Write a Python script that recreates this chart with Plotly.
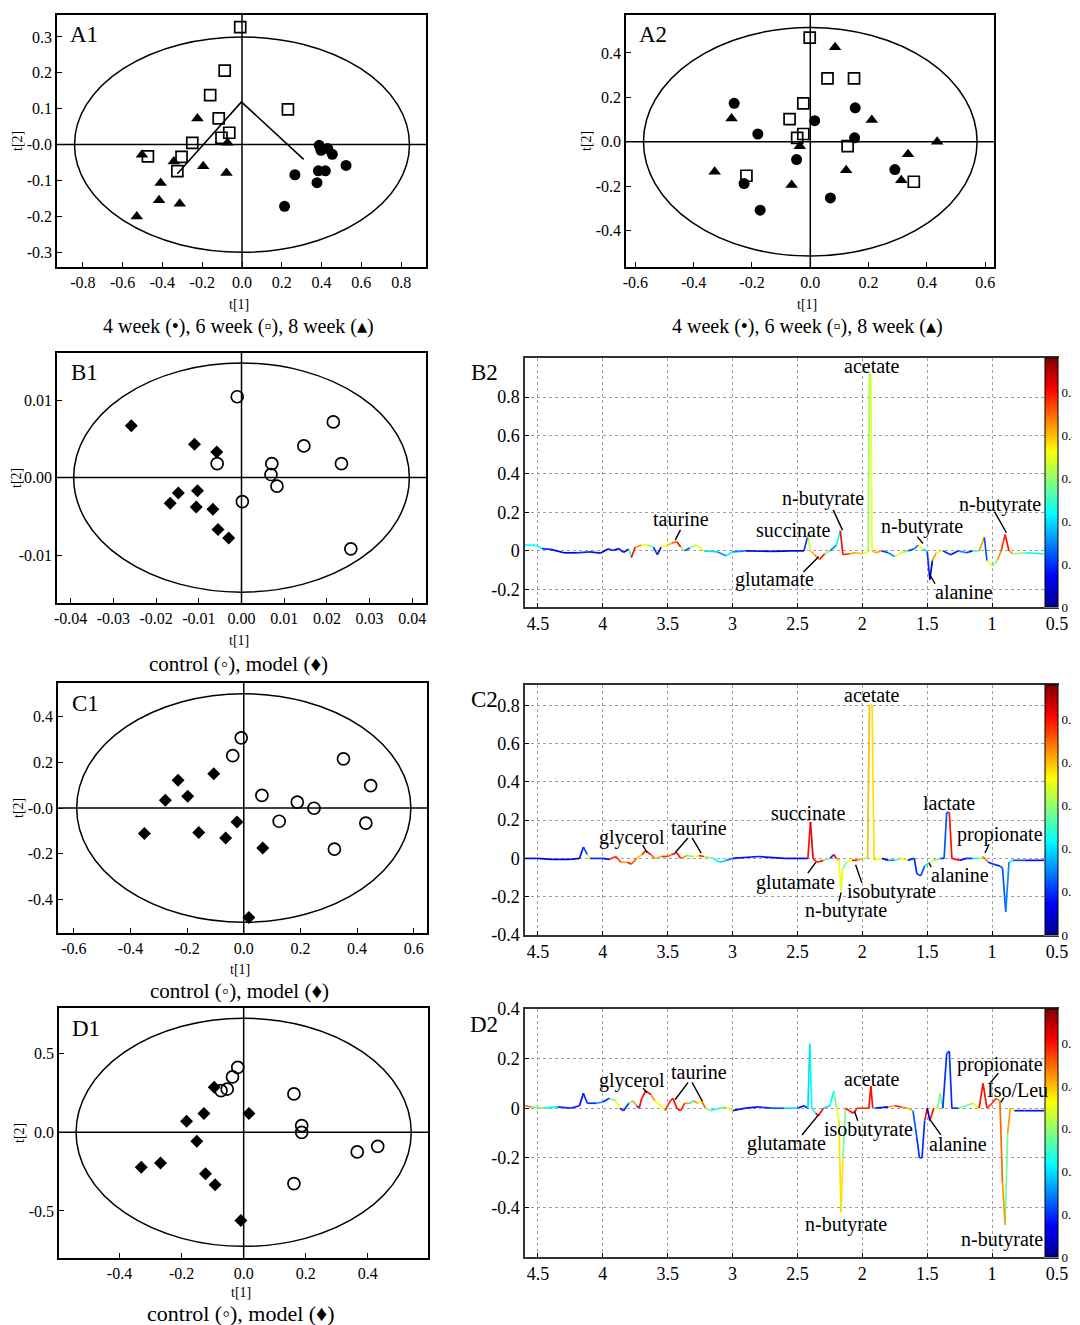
import plotly.graph_objects as go
from plotly.colors import sample_colorscale

W, H = 1080, 1325
OFF = 8  # the page body adds an 8 px margin; place items by screen pixel
FONT = "Liberation Serif"

# ---------------- score-plot data ----------------
A1_w4_x = [0.388, 0.397, 0.431, 0.454, 0.523, 0.384, 0.419, 0.266, 0.377, 0.214]
A1_w4_y = [-0.002, -0.016, -0.011, -0.027, -0.058, -0.073, -0.073, -0.084, -0.106, -0.172]
A1_w6_x = [-0.009, -0.087, -0.160, 0.231, -0.117, -0.064, -0.103, -0.250, -0.473, -0.304, -0.325]
A1_w6_y = [0.327, 0.206, 0.138, 0.098, 0.073, 0.033, 0.019, 0.005, -0.033, -0.034, -0.074]
A1_w8_x = [-0.224, -0.073, -0.503, -0.343, -0.195, -0.078, -0.409, -0.417, -0.313, -0.529]
A1_w8_y = [0.073, 0.005, -0.028, -0.047, -0.060, -0.079, -0.107, -0.155, -0.165, -0.200]
A1_traj_x = [-0.325, -0.003, 0.310]
A1_traj_y = [-0.081, 0.119, -0.041]

A2_w4_x = [-0.261, -0.180, 0.015, 0.154, 0.152, -0.227, -0.047, -0.172, 0.069, 0.290]
A2_w4_y = [0.173, 0.035, 0.095, 0.153, 0.018, -0.188, -0.080, -0.308, -0.253, -0.125]
A2_w6_x = [-0.002, 0.059, 0.150, -0.024, -0.071, -0.024, -0.045, 0.128, -0.219, 0.355]
A2_w6_y = [0.469, 0.286, 0.286, 0.173, 0.102, 0.035, 0.018, -0.020, -0.153, -0.180]
A2_w8_x = [0.085, -0.270, 0.211, 0.435, -0.036, 0.335, -0.328, 0.123, -0.064, 0.312]
A2_w8_y = [0.426, 0.105, 0.098, 0.000, -0.020, -0.056, -0.135, -0.128, -0.195, -0.173]

B1_ctl_x = [-0.0010, 0.0215, 0.0146, -0.0057, 0.0071, 0.0069, 0.0083, 0.0234, 0.0002, 0.0256]
B1_ctl_y = [0.01045, 0.0072, 0.0041, 0.0018, 0.0018, 0.0004, -0.0011, 0.0018, -0.0031, -0.0092]
B1_mod_x = [-0.0258, -0.0110, -0.0058, -0.0148, -0.0103, -0.0167, -0.0106, -0.0067, -0.0055, -0.0030]
B1_mod_y = [0.0067, 0.0043, 0.0033, -0.0020, -0.0017, -0.0033, -0.0038, -0.0041, -0.0067, -0.0078]

C1_ctl_x = [-0.009, -0.039, 0.352, 0.448, 0.064, 0.189, 0.248, 0.125, 0.431, 0.320]
C1_ctl_y = [0.307, 0.229, 0.215, 0.098, 0.055, 0.026, -0.001, -0.058, -0.066, -0.180]
C1_mod_x = [-0.106, -0.232, -0.198, -0.277, -0.024, -0.351, -0.159, -0.064, 0.067, 0.018]
C1_mod_y = [0.150, 0.121, 0.051, 0.034, -0.061, -0.112, -0.107, -0.131, -0.175, -0.479]

D1_ctl_x = [-0.019, -0.036, -0.053, -0.073, 0.162, 0.187, 0.187, 0.366, 0.432, 0.162]
D1_ctl_y = [0.413, 0.352, 0.275, 0.265, 0.244, 0.042, 0.000, -0.125, -0.089, -0.326]
D1_mod_x = [-0.095, -0.128, 0.017, -0.184, -0.151, -0.268, -0.330, -0.123, -0.092, -0.009]
D1_mod_y = [0.286, 0.119, 0.119, 0.070, -0.057, -0.195, -0.222, -0.263, -0.333, -0.561]

# ---------------- loading-plot data (ppm, loading, |r|) ----------------
B2_ppm = [4.60, 4.52, 4.47, 4.40, 4.30, 4.20, 4.10, 4.02, 3.96, 3.92, 3.88, 3.84, 3.80, 3.78, 3.75,
          3.70, 3.65, 3.61, 3.58, 3.55, 3.50, 3.47, 3.43, 3.40, 3.37, 3.33, 3.28, 3.22, 3.12, 3.05,
          3.00, 2.90, 2.70, 2.55, 2.45, 2.42, 2.40, 2.37, 2.33, 2.29, 2.25, 2.20, 2.17, 2.15, 2.10,
          2.05, 2.00, 1.955, 1.945, 1.935, 1.925, 1.90, 1.85, 1.80, 1.75, 1.70, 1.65, 1.60, 1.57,
          1.53, 1.50, 1.48, 1.46, 1.43, 1.38, 1.32, 1.26, 1.20, 1.15, 1.10, 1.06, 1.04, 1.00, 0.96,
          0.93, 0.90, 0.87, 0.84, 0.75, 0.60]
B2_load = [0.030, 0.030, 0.012, 0.008, -0.010, -0.010, -0.005, -0.012, 0.010, 0.002, 0.012, -0.008, 0.010, -0.035, 0.020,
           0.030, 0.030, 0.020, -0.020, 0.020, 0.030, 0.040, 0.048, 0.020, 0.000, 0.015, 0.030, 0.000, -0.005, -0.025,
           -0.005, 0.000, -0.003, 0.000, 0.000, 0.080, 0.000, -0.020, -0.045, -0.015, 0.000, 0.030, 0.105, -0.020, -0.015,
           -0.010, -0.015, -0.005, 0.920, 0.920, 0.000, -0.010, 0.000, -0.010, -0.030, -0.010, 0.000, 0.010, 0.030,
           0.010, -0.005, -0.150, -0.050, -0.010, 0.000, -0.020, 0.000, -0.010, 0.000, 0.000, 0.070, -0.050, -0.080, -0.050,
           0.000, 0.085, 0.000, -0.015, -0.010, -0.015]
B2_r = [0.22, 0.22, 0.10, 0.05, 0.06, 0.10, 0.08, 0.05, 0.10, 0.06, 0.08, 0.05, 0.25, 0.50, 0.42,
        0.36, 0.28, 0.10, 0.08, 0.36, 0.40, 0.45, 0.50, 0.30, 0.12, 0.30, 0.36, 0.20, 0.15, 0.22,
        0.15, 0.06, 0.05, 0.06, 0.10, 0.33, 0.40, 0.43, 0.50, 0.30, 0.15, 0.22, 0.50, 0.48, 0.42,
        0.40, 0.36, 0.30, 0.30, 0.36, 0.40, 0.42, 0.10, 0.15, 0.36, 0.30, 0.12, 0.15, 0.36,
        0.20, 0.10, 0.05, 0.42, 0.36, 0.10, 0.08, 0.15, 0.10, 0.25, 0.42, 0.12, 0.36, 0.28, 0.42,
        0.48, 0.50, 0.42, 0.30, 0.22, 0.10]

C2_ppm = [4.60, 4.50, 4.40, 4.25, 4.18, 4.15, 4.12, 4.10, 4.00, 3.95, 3.90, 3.86, 3.81, 3.78, 3.74,
          3.70, 3.67, 3.63, 3.60, 3.55, 3.50, 3.47, 3.43, 3.40, 3.35, 3.30, 3.26, 3.22, 3.15, 3.10,
          3.05, 3.00, 2.80, 2.60, 2.45, 2.42, 2.40, 2.38, 2.35, 2.30, 2.25, 2.22, 2.20, 2.18, 2.165,
          2.15, 2.12, 2.08, 2.04, 2.00, 1.96, 1.945, 1.925, 1.91, 1.85, 1.80, 1.75, 1.70, 1.65, 1.60,
          1.58, 1.55, 1.52, 1.48, 1.45, 1.40, 1.37, 1.35, 1.33, 1.31, 1.25, 1.20, 1.15, 1.10, 1.07,
          1.03, 0.99, 0.94, 0.92, 0.895, 0.87, 0.84, 0.75, 0.60]
C2_load = [0.000, 0.000, -0.005, -0.005, 0.000, 0.060, 0.020, 0.000, 0.000, -0.005, 0.010, -0.020, -0.020, -0.030, 0.000,
           0.020, 0.040, 0.020, 0.000, 0.010, 0.010, 0.020, 0.030, 0.000, 0.015, 0.010, 0.015, 0.010, 0.000, -0.020,
           -0.010, 0.000, 0.010, 0.000, 0.000, 0.000, 0.190, 0.000, -0.020, -0.010, 0.000, 0.020, 0.000, -0.010, -0.170,
           -0.050, -0.020, -0.010, -0.010, 0.000, 0.000, 0.800, 0.800, -0.010, 0.000, -0.010, -0.010, 0.000, -0.010, 0.000,
           -0.080, -0.090, -0.040, -0.020, -0.010, 0.000, 0.000, 0.240, 0.240, 0.000, -0.010, 0.000, 0.000, 0.000, 0.010,
           -0.020, -0.030, -0.040, -0.050, -0.280, -0.020, -0.010, -0.010, -0.010]
C2_r = [0.08, 0.06, 0.05, 0.06, 0.08, 0.12, 0.36, 0.10, 0.08, 0.48, 0.48, 0.42, 0.50, 0.45, 0.40,
        0.48, 0.50, 0.45, 0.40, 0.48, 0.45, 0.50, 0.50, 0.42, 0.28, 0.36, 0.48, 0.30, 0.22, 0.20,
        0.15, 0.08, 0.08, 0.06, 0.08, 0.50, 0.52, 0.50, 0.50, 0.30, 0.10, 0.50, 0.42, 0.36, 0.34,
        0.28, 0.36, 0.50, 0.42, 0.30, 0.40, 0.38, 0.38, 0.36, 0.08, 0.15, 0.28, 0.36, 0.10, 0.10,
        0.12, 0.12, 0.20, 0.36, 0.28, 0.10, 0.12, 0.12, 0.50, 0.50, 0.08, 0.10, 0.22, 0.36, 0.45,
        0.10, 0.10, 0.12, 0.12, 0.15, 0.22, 0.12, 0.08, 0.06]

D2_ppm = [4.60, 4.55, 4.45, 4.35, 4.25, 4.18, 4.15, 4.12, 4.05, 4.00, 3.95, 3.90, 3.87, 3.84, 3.80,
          3.77, 3.74, 3.72, 3.70, 3.67, 3.63, 3.60, 3.55, 3.52, 3.48, 3.46, 3.43, 3.40, 3.37, 3.33,
          3.30, 3.27, 3.24, 3.21, 3.17, 3.10, 3.05, 3.00, 2.90, 2.80, 2.70, 2.60, 2.50, 2.45, 2.42,
          2.405, 2.39, 2.36, 2.34, 2.30, 2.25, 2.22, 2.20, 2.18, 2.165, 2.15, 2.13, 2.10, 2.07, 2.04,
          2.00, 1.95, 1.935, 1.92, 1.90, 1.80, 1.75, 1.70, 1.65, 1.61, 1.58, 1.56, 1.54, 1.52, 1.50,
          1.48, 1.45, 1.42, 1.40, 1.38, 1.35, 1.33, 1.31, 1.26, 1.20, 1.15, 1.10, 1.07, 1.04, 1.00,
          0.97, 0.94, 0.92, 0.90, 0.88, 0.86, 0.83, 0.75, 0.60]
D2_load = [0.010, 0.005, 0.000, 0.005, 0.000, 0.010, 0.060, 0.020, 0.020, 0.025, 0.040, 0.030, 0.000, -0.010, 0.020,
           0.030, 0.010, 0.000, 0.040, 0.070, 0.055, 0.030, 0.010, -0.010, 0.030, 0.040, 0.000, -0.010, 0.020, 0.020,
           0.030, 0.020, 0.030, 0.000, -0.010, 0.000, 0.005, -0.010, 0.000, 0.005, 0.000, 0.000, 0.000, 0.010, 0.000,
           0.260, 0.000, -0.020, -0.030, 0.000, 0.010, 0.070, 0.000, -0.050, -0.420, -0.200, 0.000, -0.010, -0.020, 0.000,
           0.000, 0.000, 0.090, 0.000, 0.000, 0.005, 0.010, 0.005, 0.000, -0.010, -0.120, -0.200, -0.200, -0.050, 0.000,
           -0.050, 0.000, 0.000, 0.060, 0.000, 0.220, 0.230, 0.000, 0.000, 0.010, 0.020, 0.000, 0.100, 0.000, 0.020,
           0.040, 0.030, -0.300, -0.470, -0.100, 0.000, -0.010, -0.010, -0.010]
D2_r = [0.45, 0.28, 0.22, 0.10, 0.08, 0.08, 0.10, 0.10, 0.15, 0.10, 0.28, 0.36, 0.10, 0.10, 0.28,
        0.42, 0.10, 0.50, 0.50, 0.50, 0.42, 0.36, 0.36, 0.48, 0.50, 0.50, 0.50, 0.48, 0.42, 0.22,
        0.42, 0.36, 0.45, 0.30, 0.22, 0.28, 0.36, 0.08, 0.08, 0.10, 0.12, 0.20, 0.08, 0.10, 0.20,
        0.22, 0.22, 0.50, 0.50, 0.20, 0.22, 0.28, 0.36, 0.38, 0.38, 0.28, 0.50, 0.50, 0.50, 0.48,
        0.48, 0.50, 0.50, 0.20, 0.08, 0.42, 0.50, 0.42, 0.40, 0.12, 0.10, 0.10, 0.10, 0.50, 0.02,
        0.50, 0.36, 0.28, 0.28, 0.10, 0.10, 0.10, 0.10, 0.28, 0.28, 0.36, 0.50, 0.50, 0.48, 0.48,
        0.42, 0.45, 0.42, 0.28, 0.42, 0.36, 0.08, 0.08, 0.06]

# metabolite labels: text, ppm, loading
B2_lab = [("acetate", 1.923, 0.960), ("taurine", 3.396, 0.165), ("n-butyrate", 2.30, 0.270),
          ("succinate", 2.528, 0.111), ("n-butyrate", 1.54, 0.129), ("n-butyrate", 0.942, 0.243),
          ("glutamate", 2.675, -0.150), ("alanine", 1.218, -0.214)]
B2_lead = [(3.396, 0.117, 3.442, 0.056), (2.23, 0.221, 2.153, 0.108), (1.586, 0.082, 1.534, 0.038),
           (0.988, 0.212, 0.890, 0.094), (2.466, -0.118, 2.337, -0.031), (1.433, -0.179, 1.485, -0.118)]
C2_lab = [("acetate", 1.923, 0.854), ("succinate", 2.414, 0.237), ("lactate", 1.331, 0.292),
          ("glycerol", 3.779, 0.110), ("taurine", 3.258, 0.158), ("propionate", 0.942, 0.123),
          ("glutamate", 2.512, -0.125), ("isobutyrate", 1.775, -0.172), ("n-butyrate", 2.129, -0.271),
          ("alanine", 1.250, -0.084)]
C2_lead = [(3.70, 0.077, 3.66, 0.031), (3.334, 0.115, 3.442, 0.031), (3.319, 0.115, 3.242, 0.028),
           (1.018, 0.083, 1.055, 0.028), (2.429, -0.085, 2.359, -0.021), (2.00, -0.135, 2.052, -0.033),
           (2.184, -0.233, 2.163, -0.177), (1.463, -0.052, 1.485, -0.026)]
D2_lab = [("glycerol", 3.779, 0.113), ("taurine", 3.258, 0.147), ("acetate", 1.923, 0.119),
          ("propionate", 0.942, 0.178), ("Iso/Leu", 0.804, 0.073), ("glutamate", 2.583, -0.141),
          ("isobutyrate", 1.954, -0.087), ("alanine", 1.264, -0.144), ("n-butyrate", 2.129, -0.467),
          ("n-butyrate", 0.926, -0.528)]
D2_lead = [(3.70, 0.087, 3.66, 0.062), (3.334, 0.110, 3.442, 0.035), (3.319, 0.110, 3.233, 0.028),
           (0.942, 0.147, 1.018, 0.100), (0.902, 0.049, 0.933, 0.024), (2.475, -0.114, 2.337, -0.026),
           (2.031, -0.057, 2.061, -0.012), (1.387, -0.114, 1.479, -0.046)]

# tick labels
A1_xt = [-0.8, -0.6, -0.4, -0.2, 0.0, 0.2, 0.4, 0.6, 0.8]
A1_xtt = ["-0.8", "-0.6", "-0.4", "-0.2", "0.0", "0.2", "0.4", "0.6", "0.8"]
A1_yt = [0.3, 0.2, 0.1, 0.0, -0.1, -0.2, -0.3]
A1_ytt = ["0.3", "0.2", "0.1", "-0.0", "-0.1", "-0.2", "-0.3"]
S6_xt = [-0.6, -0.4, -0.2, 0.0, 0.2, 0.4, 0.6]
S6_xtt = ["-0.6", "-0.4", "-0.2", "0.0", "0.2", "0.4", "0.6"]
A2_yt = [0.4, 0.2, 0.0, -0.2, -0.4]
A2_ytt = ["0.4", "0.2", "0.0", "-0.2", "-0.4"]
B1_xt = [-0.04, -0.03, -0.02, -0.01, 0.0, 0.01, 0.02, 0.03, 0.04]
B1_xtt = ["-0.04", "-0.03", "-0.02", "-0.01", "0.00", "0.01", "0.02", "0.03", "0.04"]
B1_yt = [0.01, 0.0, -0.01]
B1_ytt = ["0.01", "0.00", "-0.01"]
C1_yt = [0.4, 0.2, 0.0, -0.2, -0.4]
C1_ytt = ["0.4", "0.2", "-0.0", "-0.2", "-0.4"]
D1_yt = [0.5, 0.0, -0.5]
D1_ytt = ["0.5", "0.0", "-0.5"]
PPM_t = [4.5, 4, 3.5, 3, 2.5, 2, 1.5, 1, 0.5]
PPM_tt = ["4.5", "4", "3.5", "3", "2.5", "2", "1.5", "1", "0.5"]
B2_yt = [-0.2, 0, 0.2, 0.4, 0.6, 0.8]
B2_ytt = ["-0.2", "0", "0.2", "0.4", "0.6", "0.8"]
C2_yt = [-0.4, -0.2, 0, 0.2, 0.4, 0.6, 0.8]
C2_ytt = ["-0.4", "-0.2", "0", "0.2", "0.4", "0.6", "0.8"]
D2_yt = [-0.4, -0.2, 0, 0.2, 0.4]
D2_ytt = ["-0.4", "-0.2", "0", "0.2", "0.4"]
CB_t = [0, 0.1, 0.2, 0.3, 0.4, 0.5]
CB_tt = ["0", "0.1", "0.2", "0.3", "0.4", "0.5"]

JET = [[0.0, "#00008F"], [0.125, "#0000FF"], [0.375, "#00FFFF"],
       [0.625, "#FFFF00"], [0.875, "#FF0000"], [1.0, "#800000"]]
RMAX = 0.58


def fx(px):
    return (px - OFF) / W


def fy(py):
    return 1 - (py - OFF) / H


fig = go.Figure()
layout = dict(width=W, height=H, autosize=False,
              margin=dict(l=0, r=0, t=0, b=0, pad=0, autoexpand=False),
              paper_bgcolor="white", plot_bgcolor="white", showlegend=False,
              font=dict(family=FONT, color="black"))
shapes, annos = [], []


def ptext(px, py, text, size, angle=0):
    annos.append(dict(xref="paper", yref="paper", x=fx(px), y=fy(py), text=text,
                      showarrow=False, xanchor="center", yanchor="middle", textangle=angle,
                      font=dict(family=FONT, size=size, color="black")))


def add_score_panel(n, frame, xr, yr, xt, xtt, yt, ytt, ell, label, caption, capsize, t1off, capoff):
    x0, y0, x1, y1 = frame
    sx = "" if n == 1 else str(n)
    tick = dict(ticks="inside", ticklen=5, tickwidth=1.2, tickcolor="black",
                showline=True, mirror=True, linecolor="black", linewidth=1.5,
                showgrid=False, zeroline=False,
                tickfont=dict(family=FONT, size=16, color="black"))
    layout["xaxis" + sx] = dict(domain=[fx(x0), fx(x1)], range=xr, anchor="y" + sx,
                                tickvals=xt, ticktext=xtt, **tick)
    layout["yaxis" + sx] = dict(domain=[fy(y1), fy(y0)], range=yr, anchor="x" + sx,
                                tickvals=yt, ticktext=ytt, **tick)
    rx, ry = ell
    shapes.append(dict(type="circle", xref="x" + sx, yref="y" + sx, x0=-rx, x1=rx, y0=-ry, y1=ry,
                       line=dict(color="black", width=1.5)))
    shapes.append(dict(type="line", xref="x" + sx, yref="y" + sx + " domain", x0=0, x1=0, y0=0, y1=1,
                       line=dict(color="black", width=1.5)))
    shapes.append(dict(type="line", xref="x" + sx + " domain", yref="y" + sx, x0=0, x1=1, y0=0, y1=0,
                       line=dict(color="black", width=1.5)))
    ptext(x0 + 27, y0 + 20, label, 23)
    cx = (x0 + x1) / 2 - 3
    ptext(cx, y1 + t1off, "t[1]", 14)
    ptext(x0 - 40, (y0 + y1) / 2, "t[2]", 14, -90)
    ptext(cx, y1 + capoff, caption, capsize)
    return "x" + sx, "y" + sx


def colored_line(xs, ys, rs, xa, ya):
    groups = {}
    for i in range(len(xs) - 1):
        groups.setdefault(rs[i], []).append(i)
    for r, idx in groups.items():
        lx, ly = [], []
        for i in idx:
            lx += [xs[i], xs[i + 1], None]
            ly += [ys[i], ys[i + 1], None]
        col = sample_colorscale(JET, [min(r / RMAX, 1.0)])[0]
        fig.add_trace(go.Scatter(x=lx, y=ly, mode="lines", xaxis=xa, yaxis=ya,
                                 line=dict(color=col, width=1.7), hoverinfo="skip"))


def add_loading_panel(n, frame, yr, yt, ytt, xs, ys, rs, labels, leads, plabel):
    x0, y0, x1, y1 = frame
    sx = str(n)
    common = dict(ticks="inside", ticklen=4, tickwidth=1, tickcolor="black",
                  showline=True, mirror=True, linecolor="#333333", linewidth=1.5,
                  showgrid=True, gridcolor="#a0a0a0", griddash="dot", gridwidth=1,
                  zeroline=False, tickfont=dict(family=FONT, size=18, color="black"))
    layout["xaxis" + sx] = dict(domain=[fx(x0), fx(x1)], range=[4.6, 0.5], anchor="y" + sx,
                                tickvals=PPM_t, ticktext=PPM_tt, **common)
    layout["yaxis" + sx] = dict(domain=[fy(y1), fy(y0)], range=yr, anchor="x" + sx,
                                tickvals=yt, ticktext=ytt, **common)
    xa, ya = "x" + sx, "y" + sx
    colored_line(xs, ys, rs, xa, ya)
    cb_left = x1 - 12.5
    cbar = dict(x=fx(cb_left), xanchor="left", xpad=0, ypad=0,
                y=fy((y0 + y1) / 2), yanchor="middle",
                len=(y1 - y0) / H, lenmode="fraction",
                thickness=12.5, thicknessmode="pixels",
                outlinewidth=1, outlinecolor="black",
                bgcolor="white", tickvals=CB_t, ticktext=CB_tt, ticks="", ticklen=0,
                tickfont=dict(family=FONT, size=13, color="black"))
    mk = dict(size=1, opacity=0, color=[0.0], colorscale=JET, cmin=0, cmax=RMAX,
              showscale=True, colorbar=cbar)
    fig.add_trace(go.Scatter(x=[2.0], y=[0.0], mode="markers", xaxis=xa, yaxis=ya,
                             hoverinfo="skip", marker=mk))
    for t, lx, ly in labels:
        annos.append(dict(xref=xa, yref=ya, x=lx, y=ly, text=t, showarrow=False,
                          xanchor="center", yanchor="middle",
                          font=dict(family=FONT, size=20, color="black")))
    for sxp, syp, ex, ey in leads:
        annos.append(dict(xref=xa, yref=ya, x=ex, y=ey, ax=sxp, ay=syp, axref=xa, ayref=ya,
                          text="", showarrow=True, arrowhead=0, arrowwidth=1.4, arrowcolor="black",
                          standoff=0, startstandoff=0))
    ptext(x0 - 41, y0 + 15, plabel, 23)


def marker_trace(xs, ys, symbol, size, xa, ya, lw=0):
    fig.add_trace(go.Scatter(x=xs, y=ys, mode="markers", xaxis=xa, yaxis=ya, hoverinfo="skip",
                             marker=dict(symbol=symbol, size=size, color="black",
                                         line=dict(color="black", width=lw))))


CAP_W = "4 week (\u2022), 6 week (\u25AB), 8 week (\u25B4)"
CAP_C = "control (\u25E6), model (\u2666)"

# A1
xa, ya = add_score_panel(1, (57, 15, 426, 267), [-0.93, 0.925], [-0.341, 0.361],
                         A1_xt, A1_xtt, A1_yt, A1_ytt, (0.842, 0.30), "A1", CAP_W, 20, 37, 59)
fig.add_trace(go.Scatter(x=A1_traj_x, y=A1_traj_y, mode="lines", xaxis=xa, yaxis=ya,
                         line=dict(color="black", width=1.6), hoverinfo="skip"))
marker_trace(A1_w4_x, A1_w4_y, "circle", 11, xa, ya)
marker_trace(A1_w6_x, A1_w6_y, "square-open", 11, xa, ya, 1.7)
marker_trace(A1_w8_x, A1_w8_y, "triangle-up", 11, xa, ya)

# A2
xa, ya = add_score_panel(2, (626, 15, 994, 267), [-0.632, 0.63], [-0.564, 0.571],
                         S6_xt, S6_xtt, A2_yt, A2_ytt, (0.572, 0.515), "A2", CAP_W, 20, 37, 59)
marker_trace(A2_w4_x, A2_w4_y, "circle", 11, xa, ya)
marker_trace(A2_w6_x, A2_w6_y, "square-open", 11, xa, ya, 1.7)
marker_trace(A2_w8_x, A2_w8_y, "triangle-up", 11, xa, ya)

# B1
xa, ya = add_score_panel(3, (57, 353, 426, 603), [-0.0432, 0.0432], [-0.0162, 0.0161],
                         B1_xt, B1_xtt, B1_yt, B1_ytt, (0.0393, 0.0148), "B1", CAP_C, 21, 38, 61)
marker_trace(B1_ctl_x, B1_ctl_y, "circle-open", 12, xa, ya, 1.7)
marker_trace(B1_mod_x, B1_mod_y, "diamond", 10, xa, ya)

# B2
add_loading_panel(4, (525, 358, 1057, 607), [-0.292, 1.003], B2_yt, B2_ytt,
                  B2_ppm, B2_load, B2_r, B2_lab, B2_lead, "B2")

# C1
xa, ya = add_score_panel(5, (58, 683, 427, 933), [-0.656, 0.647], [-0.547, 0.547],
                         S6_xt, S6_xtt, C1_yt, C1_ytt, (0.59, 0.50), "C1", CAP_C, 21, 36, 58)
marker_trace(C1_ctl_x, C1_ctl_y, "circle-open", 12, xa, ya, 1.7)
marker_trace(C1_mod_x, C1_mod_y, "diamond", 10, xa, ya)

# C2
add_loading_panel(6, (525, 685, 1057, 935), [-0.40, 0.906], C2_yt, C2_ytt,
                  C2_ppm, C2_load, C2_r, C2_lab, C2_lead, "C2")

# D1
xa, ya = add_score_panel(7, (59, 1008, 428, 1258), [-0.595, 0.594], [-0.799, 0.79],
                         S6_xt, S6_xtt, D1_yt, D1_ytt, (0.54, 0.725), "D1", CAP_C, 22, 34, 55)
marker_trace(D1_ctl_x, D1_ctl_y, "circle-open", 12, xa, ya, 1.7)
marker_trace(D1_mod_x, D1_mod_y, "diamond", 10, xa, ya)

# D2
add_loading_panel(8, (525, 1009, 1057, 1257), [-0.60, 0.40], D2_yt, D2_ytt,
                  D2_ppm, D2_load, D2_r, D2_lab, D2_lead, "D2")

layout["shapes"] = shapes
layout["annotations"] = annos
fig.update_layout(**layout)
fig.for_each_trace(lambda t: t.update(showlegend=False))
fig.write_html("out.html")
